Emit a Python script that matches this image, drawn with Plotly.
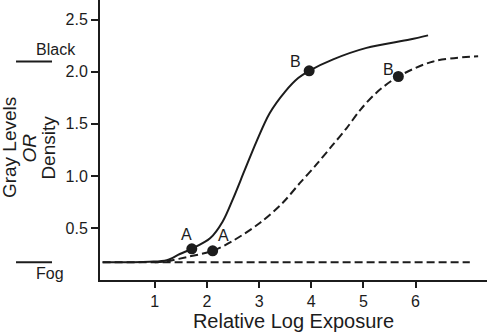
import plotly.graph_objects as go

# Characteristic (H&D) curves: density vs. relative log exposure
solid_x = [0.0, 0.9, 1.23, 1.48, 1.71, 2.06, 2.3, 2.5, 2.72, 2.95, 3.2, 3.5, 3.75, 3.96, 4.42, 5.06, 5.89, 6.24]
solid_y = [0.17, 0.175, 0.19, 0.25, 0.30, 0.40, 0.56, 0.78, 1.05, 1.33, 1.60, 1.81, 1.94, 2.01, 2.12, 2.23, 2.31, 2.35]

dashed_x = [1.0, 1.23, 1.61, 2.11, 2.51, 3.02, 3.45, 3.78, 4.1, 4.4, 4.68, 4.95, 5.25, 5.67, 6.34, 7.2]
dashed_y = [0.17, 0.18, 0.22, 0.28, 0.38, 0.55, 0.74, 0.93, 1.11, 1.29, 1.46, 1.64, 1.80, 1.955, 2.10, 2.15]

fog_x = [0.0, 7.04]
fog_level = 0.17
black_level = 2.1

# Marked points on each curve: (label, x, y, label offset px)
solid_pts = [("A", 1.71, 0.30, -5, 14), ("B", 3.96, 2.01, -14, 9)]
dashed_pts = [("A", 2.11, 0.28, 11, 15), ("B", 5.67, 1.955, -10, 7)]

x_ticks = [1, 2, 3, 4, 5, 6]
y_ticks = [0.5, 1.0, 1.5, 2.0, 2.5]

INK = "#1c1c1c"
FONT = "Liberation Sans, Arial, sans-serif"

fig = go.Figure()

fig.add_trace(go.Scatter(
    x=fog_x, y=[fog_level] * len(fog_x), mode="lines",
    line=dict(color=INK, width=2, dash="8px,4px"), hoverinfo="skip"))

fig.add_trace(go.Scatter(
    x=dashed_x, y=dashed_y, mode="lines", line_shape="spline",
    line=dict(color=INK, width=2, dash="8px,4px", smoothing=0.9), hoverinfo="skip"))

fig.add_trace(go.Scatter(
    x=solid_x, y=solid_y, mode="lines", line_shape="spline",
    line=dict(color=INK, width=2, smoothing=0.9), hoverinfo="skip"))

pts = solid_pts + dashed_pts
fig.add_trace(go.Scatter(
    x=[p[1] for p in pts], y=[p[2] for p in pts], mode="markers",
    marker=dict(color=INK, size=11), hoverinfo="skip"))

for lab, px, py, dx, dy in pts:
    fig.add_annotation(x=px, y=py, text=lab, showarrow=False,
                       xshift=dx, yshift=dy, font=dict(size=16, color=INK, family=FONT))

# Black / Fog reference marks to the left of the axis
for lvl in (black_level, fog_level):
    fig.add_shape(type="line", xref="paper", yref="y",
                  x0=-0.217, x1=-0.124, y0=lvl, y1=lvl,
                  line=dict(color=INK, width=2))
fig.add_annotation(xref="paper", yref="y", x=-0.171, y=black_level, text="Black",
                   showarrow=False, yanchor="bottom", yshift=1,
                   font=dict(size=16, color=INK, family=FONT))
fig.add_annotation(xref="paper", yref="y", x=-0.171, y=fog_level, text="Fog",
                   showarrow=False, yanchor="top", yshift=-1,
                   font=dict(size=16, color=INK, family=FONT))

# Stacked, rotated y-axis caption
for txt, px in (("Gray Levels", 9), ("<i>OR</i>", 29.5), ("Density", 48.5)):
    fig.add_annotation(xref="paper", yref="paper", x=(px - 100) / 387, y=0.471,
                       text=txt, textangle=-90, showarrow=False,
                       xanchor="center", yanchor="middle",
                       font=dict(size=19, color=INK, family=FONT))

fig.update_layout(
    width=487, height=333,
    margin=dict(l=100, r=0, t=0, b=53),
    paper_bgcolor="white", plot_bgcolor="white",
    showlegend=False,
    font=dict(family=FONT, color=INK),
    xaxis=dict(range=[-0.05, 7.37], tickvals=x_ticks, ticks="outside", ticklen=6,
               tickwidth=2, tickcolor=INK, showline=True, linecolor=INK, linewidth=2,
               showgrid=False, zeroline=False, tickfont=dict(size=16),
               title=dict(text="Relative Log Exposure", font=dict(size=20), standoff=2)),
    yaxis=dict(range=[0, 2.69], tickvals=y_ticks, tickformat=".1f", ticks="outside",
               ticklen=7, tickwidth=2, tickcolor=INK, showline=True, linecolor=INK,
               linewidth=2, showgrid=False, zeroline=False, tickfont=dict(size=16)),
)

fig.write_html("out.html")
